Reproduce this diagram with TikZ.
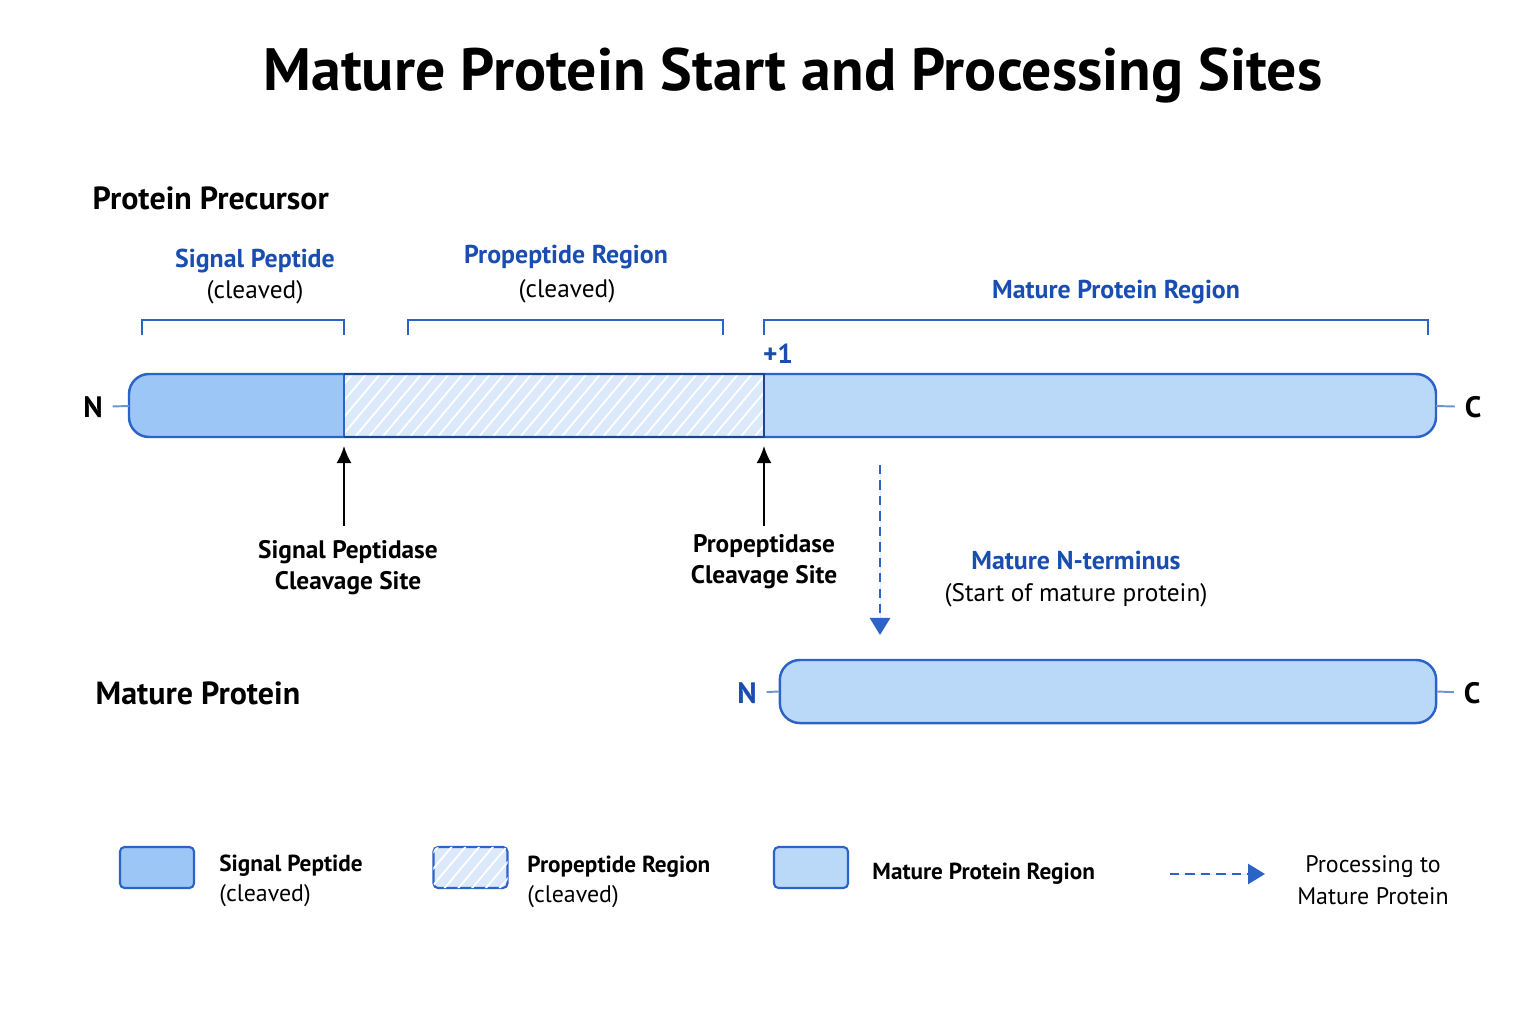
\documentclass[tikz,border=0pt]{standalone}
\usepackage{fontspec}
\setmainfont{PT Sans}
\usetikzlibrary{arrows.meta,positioning,patterns.meta}

\definecolor{sigblue}{HTML}{9CC6F6}
\definecolor{propblue}{HTML}{DCE9FA}
\definecolor{matblue}{HTML}{BAD8F8}
\definecolor{edgeblue}{HTML}{2B63C6}
\definecolor{textblue}{HTML}{1A4DB0}
\definecolor{tickblue}{HTML}{6F93CC}

\tikzset{
	heading/.style={font=\bfseries\fontsize{9.1}{10}\selectfont, anchor=west, inner sep=0pt},
	bluelabel/.style={font=\bfseries\fontsize{7.35}{9}\selectfont, text=textblue},
	note/.style={font=\fontsize{7.2}{9}\selectfont},
	sitelabel/.style={font=\bfseries\fontsize{7.2}{8.8}\selectfont, align=center},
	keylabel/.style={font=\bfseries\fontsize{6.6}{9}\selectfont, anchor=west, align=left},
	keynote/.style={font=\fontsize{6.8}{9}\selectfont, anchor=west},
	bracket/.style={draw=edgeblue, line width=0.6pt},
	bar/.style={draw=edgeblue, line width=0.7pt},
	hatch/.style={pattern={Lines[angle=50, distance=3pt, line width=0.5pt]}, pattern color=white},
	swatch/.style={draw=edgeblue, line width=0.6pt, rounded corners=1.3pt,
		minimum width=0.74cm, minimum height=0.41cm, inner sep=0pt},
	term/.style={font=\bfseries\fontsize{8.4}{10}\selectfont, inner sep=2.6pt},
	stub/.style={draw=tickblue, line width=0.55pt},
	process/.style={-{Triangle[length=1.7mm, width=2mm]}, draw=edgeblue, fill=edgeblue,
		line width=0.75pt, dash pattern=on 2.6pt off 1.8pt},
}

\begin{document}
\begin{tikzpicture}[x=0.01cm, y=-0.01cm]
\useasboundingbox (0,0) rectangle (1536,1024);

\node[font=\bfseries\fontsize{17}{20}\selectfont] (title) at (793,75) {Mature Protein Start and Processing Sites};

% precursor
\node[heading] (prec) at (92,198) {Protein Precursor};

\node[bluelabel] (signame) at (255,261) {Signal Peptide};
\node[note] (sigcl) at (255,292) {(cleaved)};
\node[bluelabel] (propname) at (566,257) {Propeptide Region};
\node[note] (propcl) at (567,291) {(cleaved)};
\node[bluelabel] (matname) at (1116,292) {Mature Protein Region};

\draw[bracket] (142,335) -- (142,320) -- (344,320) -- (344,335);
\draw[bracket] (408,335) -- (408,320) -- (723,320) -- (723,335);
\draw[bracket] (764,335) -- (764,320) -- (1428,320) -- (1428,335);

\node[bluelabel, font=\bfseries\fontsize{7.8}{9}\selectfont] (plusone) at (778,354) {+1};

\coordinate (pW) at (129,406);
\coordinate (pE) at (1436,406);
\coordinate (sigcut) at (344,446);
\coordinate (propcut) at (764,446);

\begin{scope}
	\clip[rounded corners=0.2cm] (129,374) rectangle (1436,437);
	\fill[sigblue] (129,374) rectangle (344,437);
	\fill[propblue] (344,374) rectangle (764,437);
	\fill[hatch] (344,374) rectangle (764,437);
	\fill[matblue] (764,374) rectangle (1436,437);
\end{scope}
\draw[bar, rounded corners=0.2cm] (129,374) rectangle (1436,437);
\draw[bar] (344,374) -- (344,437);
\draw[bar, draw=edgeblue!70!black] (344,374) -- (764,374) -- (764,437) -- (344,437);

\node[term] (pN) at (93,407) {N};
\node[term] (pC) at (1473,407) {C};
\draw[stub] (pN) -- (pW);
\draw[stub] (pE) -- (pC);

% cleavage sites
\node[sitelabel] (sigsite) at (348,568) {Signal Peptidase\\Cleavage Site};
\node[sitelabel] (propsite) at (764,562) {Propeptidase\\Cleavage Site};
\coordinate (sigfoot) at (344,526);
\coordinate (propfoot) at (764,526);
\draw[-{Latex[length=1.7mm, width=1.5mm]}, line width=0.6pt] (sigfoot) -- (sigcut);
\draw[-{Latex[length=1.7mm, width=1.5mm]}, line width=0.6pt] (propfoot) -- (propcut);

% processing step
\coordinate (procstart) at (880,465);
\coordinate (procend) at (880,635);
\draw[process] (procstart) -- (procend);

\node[bluelabel] (nterm) at (1076,560) {Mature N-terminus};
\node[note] (ntermnote) at (1076,595) {(Start of mature protein)};

% mature protein
\node[heading] (mat) at (95,693) {Mature Protein};
\node[draw=edgeblue, line width=0.7pt, fill=matblue, rounded corners=0.2cm,
	minimum width=6.56cm, minimum height=0.63cm] (matbar) at (1108,691.5) {};
\node[term, text=textblue] (mN) at (747,693) {N};
\node[term] (mC) at (1472,693) {C};
\draw[stub] (mN) -- (matbar.west);
\draw[stub] (matbar.east) -- (mC);

% key
\node[swatch, fill=sigblue] (keysig) at (157,867.5) {};
\node[keylabel] (keysigtxt) at (207,866) {Signal Peptide};
\node[keynote] (keysigcl) at (207,896) {(cleaved)};

\node[swatch, fill=propblue, postaction={hatch}] (keyprop) at (470.5,867.5) {};
\node[keylabel] (keyproptxt) at (515,867) {Propeptide Region};
\node[keynote] (keypropcl) at (515,897) {(cleaved)};

\node[swatch, fill=matblue] (keymat) at (811,867.5) {};
\node[keylabel] (keymattxt) at (860,874) {Mature Protein Region};

\coordinate (keyarrA) at (1170,874);
\coordinate (keyarrB) at (1265,874);
\draw[process] (keyarrA) -- (keyarrB);
\node[note, align=center, font=\fontsize{6.8}{9}\selectfont] (keyproc) at (1373,880) {Processing to\\Mature Protein};

\end{tikzpicture}
\end{document}
